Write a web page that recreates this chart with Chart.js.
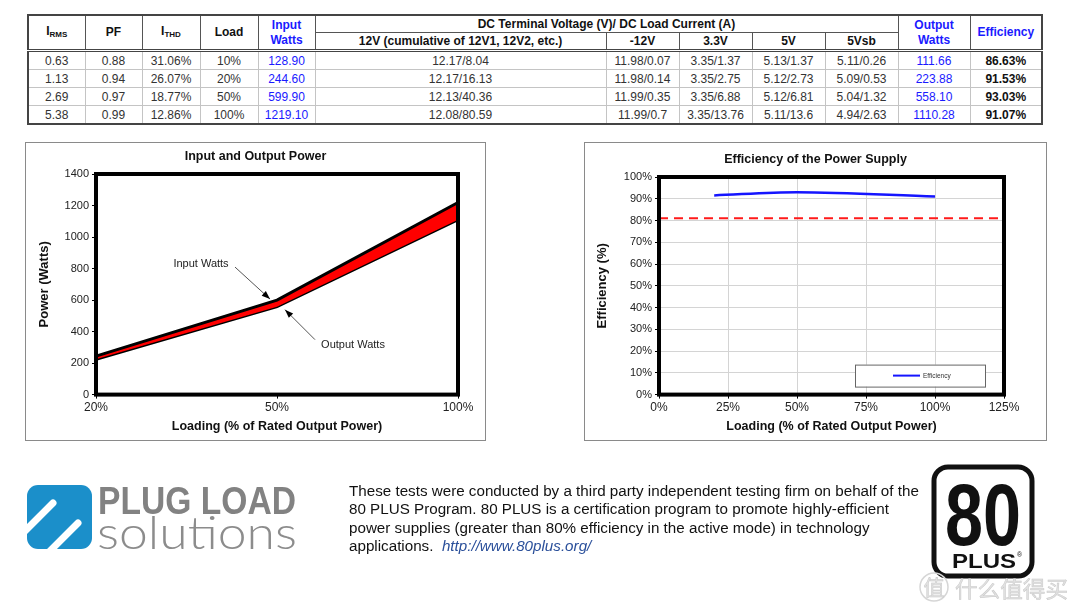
<!DOCTYPE html>
<html>
<head>
<meta charset="utf-8">
<script src="https://cdn.jsdelivr.net/npm/chart.js@4.4.0/dist/chart.umd.min.js"></script>
<style>
  body { margin:0; width:1080px; height:615px; background:#fff; position:relative; overflow:hidden;
         font-family:"Liberation Sans", Arial, sans-serif; }
  #dataTable { position:absolute; left:27px; top:14px; border-collapse:collapse; table-layout:fixed;
               border:2px solid #444; font-size:12px; }
  #dataTable th { border:1px solid #555; font-weight:bold; height:16px; padding:0; color:#111; line-height:15px; }
  #dataTable th.blue { color:#1a1aff; }
  #dataTable thead tr:last-child th, #dataTable th.tall { border-bottom:3px double #444; }
  #dataTable td { border:1px solid #c4c4c4; height:17px; padding:0; text-align:center; color:#333; }
  #dataTable td.blue { color:#1a1aff; }
  #dataTable td.eff { font-weight:bold; color:#111; }
  #dataTable sub { font-size:8px; vertical-align:-2px; }
  .box { position:absolute; border:1px solid #8a8a8a; background:#fff; }
  #note { position:absolute; left:349px; top:482px; font-size:15.2px; line-height:18.3px; color:#111; white-space:nowrap; }
  #note a { color:#2a4f9a; font-style:italic; text-decoration:none; }
</style>
</head>
<body>

<table id="dataTable">
  <colgroup>
    <col style="width:57px"><col style="width:57px"><col style="width:58px"><col style="width:58px"><col style="width:57px">
    <col style="width:291px"><col style="width:73px"><col style="width:73px"><col style="width:73px"><col style="width:73px">
    <col style="width:72px"><col style="width:72px">
  </colgroup>
  <thead>
    <tr>
      <th rowspan="2" class="tall">I<sub>RMS</sub></th>
      <th rowspan="2" class="tall">PF</th>
      <th rowspan="2" class="tall">I<sub>THD</sub></th>
      <th rowspan="2" class="tall">Load</th>
      <th rowspan="2" class="tall blue">Input<br>Watts</th>
      <th colspan="5">DC Terminal Voltage (V)/ DC Load Current (A)</th>
      <th rowspan="2" class="tall blue">Output<br>Watts</th>
      <th rowspan="2" class="tall blue">Efficiency</th>
    </tr>
    <tr>
      <th>12V (cumulative of 12V1, 12V2, etc.)</th>
      <th>-12V</th><th>3.3V</th><th>5V</th><th>5Vsb</th>
    </tr>
  </thead>
  <tbody id="tableBody"></tbody>
</table>

<div class="box" style="left:25px;top:142px;width:459px;height:297px;">
  <canvas id="powerChart" width="459" height="297"></canvas>
</div>
<div class="box" style="left:584px;top:142px;width:461px;height:297px;">
  <canvas id="effChart" width="461" height="297"></canvas>
</div>

<svg style="position:absolute;left:0;top:0" width="1080" height="615">
  <defs><clipPath id="sq"><rect x="27" y="485" width="65" height="64" rx="11"/></clipPath></defs>
  <rect x="27" y="485" width="65" height="64" rx="11" fill="#1b8fca"/>
  <g clip-path="url(#sq)" stroke="#fff" stroke-width="7" stroke-linecap="round">
    <line x1="18" y1="538" x2="53" y2="503"/>
    <line x1="43" y1="558" x2="78" y2="523"/>
  </g>
  <text x="98" y="514" font-family="Liberation Sans, Arial" font-weight="bold" font-size="38" fill="#828282"
        textLength="198" lengthAdjust="spacingAndGlyphs">PLUG LOAD</text>
  <text x="97" y="549" font-family="Lato, Open Sans, sans-serif" font-weight="300" font-size="46" fill="#8c8c8c"
        textLength="200" lengthAdjust="spacingAndGlyphs">solutions</text>

  <rect x="934" y="467" width="98" height="109" rx="14" fill="#fff" stroke="#111" stroke-width="5"/>
  <text x="983" y="545" text-anchor="middle" font-family="Liberation Sans Narrow, Liberation Sans, Arial" font-weight="bold"
        font-size="88" fill="#111" textLength="76" lengthAdjust="spacingAndGlyphs">80</text>
  <text x="952" y="568" font-family="Liberation Sans, Arial" font-weight="bold" font-size="21" fill="#111"
        textLength="64" lengthAdjust="spacingAndGlyphs">PLUS</text>
  <text x="1017" y="557" font-family="Liberation Sans, Arial" font-size="7" fill="#111">®</text>

  <circle cx="934" cy="587" r="14" fill="none" stroke="#d6d6d6" stroke-width="1.5"/>
  <text x="934" y="595" text-anchor="middle" font-family="Noto Sans CJK SC" font-size="21" fill="#e2e2e2" stroke="#c8c8c8" stroke-width="0.5">值</text>
  <text x="955" y="597" font-family="Noto Sans CJK SC" font-size="22" fill="#e2e2e2" stroke="#c8c8c8" stroke-width="0.5"
        textLength="113" lengthAdjust="spacingAndGlyphs">什么值得买</text>
</svg>

<div id="note">These tests were conducted by a third party independent testing firm on behalf of the<br>
80 PLUS Program. 80 PLUS is a certification program to promote highly-efficient<br>
power supplies (greater than 80% efficiency in the active mode) in technology<br>
applications.&nbsp; <a>http://www.80plus.org/</a></div>

<script>
// ---- test data ----
const loadLevels = ['10%', '20%', '50%', '100%'];
const irms = ['0.63', '1.13', '2.69', '5.38'];
const powerFactor = ['0.88', '0.94', '0.97', '0.99'];
const ithd = ['31.06%', '26.07%', '18.77%', '12.86%'];
const inputWatts = [128.90, 244.60, 599.90, 1219.10];
const rail12v = ['12.17/8.04', '12.17/16.13', '12.13/40.36', '12.08/80.59'];
const railMinus12v = ['11.98/0.07', '11.98/0.14', '11.99/0.35', '11.99/0.7'];
const rail33v = ['3.35/1.37', '3.35/2.75', '3.35/6.88', '3.35/13.76'];
const rail5v = ['5.13/1.37', '5.12/2.73', '5.12/6.81', '5.11/13.6'];
const rail5vsb = ['5.11/0.26', '5.09/0.53', '5.04/1.32', '4.94/2.63'];
const outputWatts = [111.66, 223.88, 558.10, 1110.28];
const efficiency = [86.63, 91.53, 93.03, 91.07];

// charts use the 20/50/100% rows
const chartLoads = [20, 50, 100];
const chartLoadLabels = ['20%', '50%', '100%'];
const chartInput = inputWatts.slice(1);
const chartOutput = outputWatts.slice(1);
const chartEfficiency = efficiency.slice(1);
const efficiencyThreshold = [81, 81];
const thresholdRange = [0, 125];

const powerMax = 1400, powerStep = 200;
const loadAxisMax = 125, loadAxisStep = 25;

const FONT = '"Liberation Sans", Arial, sans-serif';

// build table
const tbody = document.getElementById('tableBody');
loadLevels.forEach((load, i) => {
    const tr = document.createElement('tr');
    tr.innerHTML = `
        <td>${irms[i]}</td><td>${powerFactor[i]}</td><td>${ithd[i]}</td><td>${load}</td>
        <td class="blue">${inputWatts[i].toFixed(2)}</td>
        <td>${rail12v[i]}</td><td>${railMinus12v[i]}</td><td>${rail33v[i]}</td><td>${rail5v[i]}</td><td>${rail5vsb[i]}</td>
        <td class="blue">${outputWatts[i].toFixed(2)}</td>
        <td class="eff">${efficiency[i].toFixed(2)}%</td>`;
    tbody.appendChild(tr);
});

// thick black frame round the plot area
const plotFrame = {
    id: 'plotFrame',
    afterDatasetsDraw(chart) {
        const { ctx, chartArea: a } = chart;
        ctx.save();
        ctx.strokeStyle = '#000';
        ctx.lineWidth = 4;
        ctx.strokeRect(a.left, a.top, a.right - a.left, a.bottom - a.top);
        ctx.restore();
    }
};

// empty axis on the right, only to reserve margin so the title stays centred in the box
const spacerAxis = w => ({
    position: 'right', display: true,
    grid: { display: false }, border: { display: false }, ticks: { display: false },
    afterFit: s => { s.width = w; }
});

function arrow(ctx, x1, y1, x2, y2) {
    ctx.beginPath();
    ctx.moveTo(x1, y1);
    ctx.lineTo(x2, y2);
    ctx.stroke();
    const ang = Math.atan2(y2 - y1, x2 - x1);
    ctx.beginPath();
    ctx.moveTo(x2, y2);
    ctx.lineTo(x2 - 9 * Math.cos(ang - 0.35), y2 - 9 * Math.sin(ang - 0.35));
    ctx.lineTo(x2 - 9 * Math.cos(ang + 0.35), y2 - 9 * Math.sin(ang + 0.35));
    ctx.closePath();
    ctx.fill();
}

// "Input Watts" / "Output Watts" callouts pointing at the 50% point
const callouts = {
    id: 'callouts',
    afterDraw(chart) {
        const { ctx, scales } = chart;
        const px = scales.x.getPixelForValue(1);
        const inY = scales.y.getPixelForValue(chartInput[1]);
        const outY = scales.y.getPixelForValue(chartOutput[1]);
        ctx.save();
        ctx.font = '11px ' + FONT;
        ctx.fillStyle = '#222';
        ctx.textAlign = 'center';
        ctx.textBaseline = 'middle';
        ctx.fillText(chart.data.datasets[0].label, px - 76, inY - 36);
        ctx.fillText(chart.data.datasets[1].label, px + 76, outY + 38);
        ctx.strokeStyle = '#555';
        ctx.fillStyle = '#000';
        ctx.lineWidth = 1;
        arrow(ctx, px - 42, inY - 33, px - 7, inY - 1);
        arrow(ctx, px + 38, outY + 33, px + 8, outY + 3);
        ctx.restore();
    }
};

new Chart(document.getElementById('powerChart'), {
    type: 'line',
    data: {
        labels: chartLoadLabels,
        datasets: [
            { label: 'Input Watts', data: chartInput, borderColor: '#000', borderWidth: 3,
              pointRadius: 0, fill: '+1', backgroundColor: '#ff0000' },
            { label: 'Output Watts', data: chartOutput, borderColor: '#000', borderWidth: 3,
              pointRadius: 0, fill: false }
        ]
    },
    options: {
        responsive: false,
        animation: false,
        layout: { padding: { left: 5, right: 5, top: 0, bottom: 6 } },
        plugins: {
            legend: { display: false },
            tooltip: { enabled: false },
            title: { display: true, text: 'Input and Output Power', color: '#111',
                     font: { family: FONT, size: 12.5, weight: 'bold' }, padding: { top: 6, bottom: 10 } }
        },
        scales: {
            x: {
                offset: false,
                border: { display: false },
                grid: { drawOnChartArea: false, tickLength: 4, color: '#000' },
                ticks: { color: '#222', font: { family: FONT, size: 12 }, padding: 2, maxRotation: 0 },
                title: { display: true, text: 'Loading (% of Rated Output Power)', color: '#111',
                         font: { family: FONT, size: 12.5, weight: 'bold' }, padding: { top: 2, bottom: 0 } }
            },
            y: {
                min: 0, max: powerMax,
                border: { display: false },
                grid: { drawOnChartArea: false, tickLength: 4, color: '#000' },
                ticks: { stepSize: powerStep, callback: v => String(v), color: '#222',
                         font: { family: FONT, size: 11 }, padding: 3 },
                title: { display: true, text: 'Power (Watts)', color: '#111',
                         font: { family: FONT, size: 13, weight: 'bold' }, padding: { top: 6, bottom: 6 } },
                afterFit: s => { s.width = 65; }
            },
            yPad: spacerAxis(22)
        }
    },
    plugins: [plotFrame, callouts]
});

// small boxed legend inside the plot, bottom right
const innerLegend = {
    id: 'innerLegend',
    afterDraw(chart) {
        const { ctx, chartArea: a } = chart;
        const w = 130, h = 22;
        const x = a.right - 19 - w, y = a.bottom - 8 - h;
        const ds = chart.data.datasets[0];
        ctx.save();
        ctx.fillStyle = '#fff';
        ctx.fillRect(x, y, w, h);
        ctx.strokeStyle = '#666';
        ctx.lineWidth = 1;
        ctx.strokeRect(x + 0.5, y + 0.5, w, h);
        ctx.strokeStyle = ds.borderColor;
        ctx.lineWidth = 2;
        ctx.beginPath();
        ctx.moveTo(x + 38, y + 11);
        ctx.lineTo(x + 65, y + 11);
        ctx.stroke();
        ctx.fillStyle = '#333';
        ctx.font = '6.5px ' + FONT;
        ctx.textBaseline = 'middle';
        ctx.fillText(ds.label, x + 68, y + 11.5);
        ctx.restore();
    }
};

new Chart(document.getElementById('effChart'), {
    type: 'line',
    data: {
        datasets: [
            { label: 'Efficiency', data: chartLoads.map((l, i) => ({ x: l, y: chartEfficiency[i] })),
              borderColor: '#1515ff', borderWidth: 2.5, pointRadius: 0, cubicInterpolationMode: 'monotone' },
            { label: '80% line', data: thresholdRange.map((l, i) => ({ x: l, y: efficiencyThreshold[i] })),
              borderColor: '#ff1a1a', borderWidth: 2, borderDash: [9, 6], pointRadius: 0, clip: 6 }
        ]
    },
    options: {
        responsive: false,
        animation: false,
        layout: { padding: { left: 5, right: 5, top: 0, bottom: 6 } },
        plugins: {
            legend: { display: false },
            tooltip: { enabled: false },
            title: { display: true, text: 'Efficiency of the Power Supply', color: '#111',
                     font: { family: FONT, size: 12.5, weight: 'bold' }, padding: { top: 9, bottom: 10 } }
        },
        scales: {
            x: {
                type: 'linear', min: 0, max: loadAxisMax,
                border: { display: false },
                grid: { color: '#d4d4d4', tickColor: '#000', tickLength: 4 },
                ticks: { stepSize: loadAxisStep, callback: v => v + '%', color: '#222',
                         font: { family: FONT, size: 12 }, padding: 2, maxRotation: 0 },
                title: { display: true, text: 'Loading (% of Rated Output Power)', color: '#111',
                         font: { family: FONT, size: 12.5, weight: 'bold' }, padding: { top: 2, bottom: 0 } }
            },
            y: {
                min: 0, max: 100,
                border: { display: false },
                grid: { color: '#d4d4d4', tickColor: '#000', tickLength: 4 },
                ticks: { stepSize: 10, callback: v => v + '%', color: '#222',
                         font: { family: FONT, size: 11 }, padding: 3 },
                title: { display: true, text: 'Efficiency (%)', color: '#111',
                         font: { family: FONT, size: 13, weight: 'bold' }, padding: { top: 5, bottom: 6 } },
                afterFit: s => { s.width = 69; }
            },
            yPad: spacerAxis(37)
        }
    },
    plugins: [plotFrame, innerLegend]
});
</script>
</body>
</html>
